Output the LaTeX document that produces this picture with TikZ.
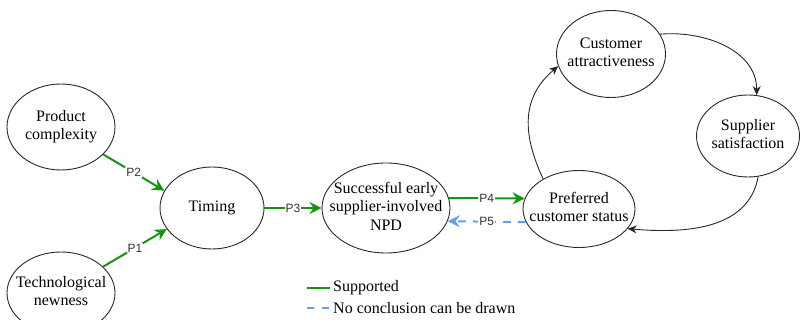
\documentclass[tikz,border=0pt]{standalone}
\usepackage{fontspec}
\setmainfont{Liberation Serif}
\newfontfamily\labelfont{Liberation Sans}
\usepackage{tikz}
\usetikzlibrary{arrows.meta, positioning, shapes.geometric}
\definecolor{SuppGreen}{RGB}{20,150,20}
\definecolor{NoConBlue}{RGB}{100,160,230}
\definecolor{EdgeGray}{RGB}{40,40,40}
\tikzset{
  >=latex,
  % Ellissi dei costrutti
  oval/.style={ellipse,draw=EdgeGray,line width=0.9pt,inner sep=0pt,font=\fontsize{16}{18.5}\selectfont},
  % Connessioni
  supp/.style={-{Stealth[length=12pt,width=12pt,inset=4pt]},line width=2pt,SuppGreen},
  nocon/.style={-{Stealth[length=12pt,width=12pt,inset=4pt]},line width=2pt,NoConBlue,dash pattern=on 8pt off 7pt},
  cycle arrow/.style={-{Stealth[length=9pt,width=8pt]},line width=0.9pt,EdgeGray},
  plabel/.style={fill=white,inner sep=1pt,font=\labelfont\fontsize{12}{14}\selectfont,text=black!80},
  legend/.style={anchor=west,inner sep=3pt,font=\fontsize{16}{18}\selectfont}
}
\newcommand{\ovaltext}[1]{\makebox[0pt]{\begin{tabular}{@{}c@{}}#1\end{tabular}}}

\begin{document}
\begin{tikzpicture}[x=1pt,y=1pt]
    \useasboundingbox (0,0) rectangle (800,320);
    % costrutti
    \node[oval,minimum width=108pt,minimum height=86pt] (prodcomplex) at (61,193) {\ovaltext{Product\\complexity}};
    \node[oval,minimum width=108pt,minimum height=82pt] (technew) at (61,27) {\ovaltext{Technological\\newness}};
    \node[oval,minimum width=104pt,minimum height=82pt] (timing) at (212,112) {\ovaltext{Timing}};
    \node[oval,minimum width=128pt,minimum height=90pt] (npd) at (386,112) {\ovaltext{Successful early\\supplier-involved\\NPD}};
    \node[oval,minimum width=112pt,minimum height=77pt] (pcs) at (579,111) {\ovaltext{Preferred\\customer status}};
    \node[oval,minimum width=109pt,minimum height=87pt] (custattr) at (611,266) {\ovaltext{Customer\\attractiveness}};
    \node[oval,minimum width=103pt,minimum height=82pt] (suppsat) at (748,184) {\ovaltext{Supplier\\satisfaction}};
    % proposizioni
    \draw[supp] (prodcomplex.-33) -- (timing.160) node[plabel,midway] {P2};
    \draw[supp] (technew.32) -- (timing.205) node[plabel,midway] {P1};
    \draw[supp] (timing) -- (npd) node[plabel,midway] {P3};
    \draw[supp] (npd.9) -- (pcs.169) node[plabel,midway] {P4};
    \draw[nocon] (pcs.194) -- (npd.-12) node[plabel,midway] {P5};
    % ciclo
    \draw[cycle arrow] (pcs.140) to[out=115,in=220,looseness=1.1] (custattr.193);
    \draw[cycle arrow] (custattr.22) to[out=5,in=90] (suppsat.78);
    \draw[cycle arrow] (suppsat.-76) to[out=-100,in=-5] (pcs.-22);
    % legenda
    \node[legend] (lgsupp) at (330,32) {Supported};
    \node[legend] (lgnocon) at (330,12) {No conclusion can be drawn};
    \coordinate (lgsuppstart) at (307,32);
    \coordinate (lgnoconstart) at (307,12);
    \draw[line width=2pt,SuppGreen] (lgsuppstart) -- (lgsupp.west);
    \draw[line width=2pt,NoConBlue,dash pattern=on 7pt off 8pt] (lgnoconstart) -- (lgnocon.west);
\end{tikzpicture}
\end{document}
